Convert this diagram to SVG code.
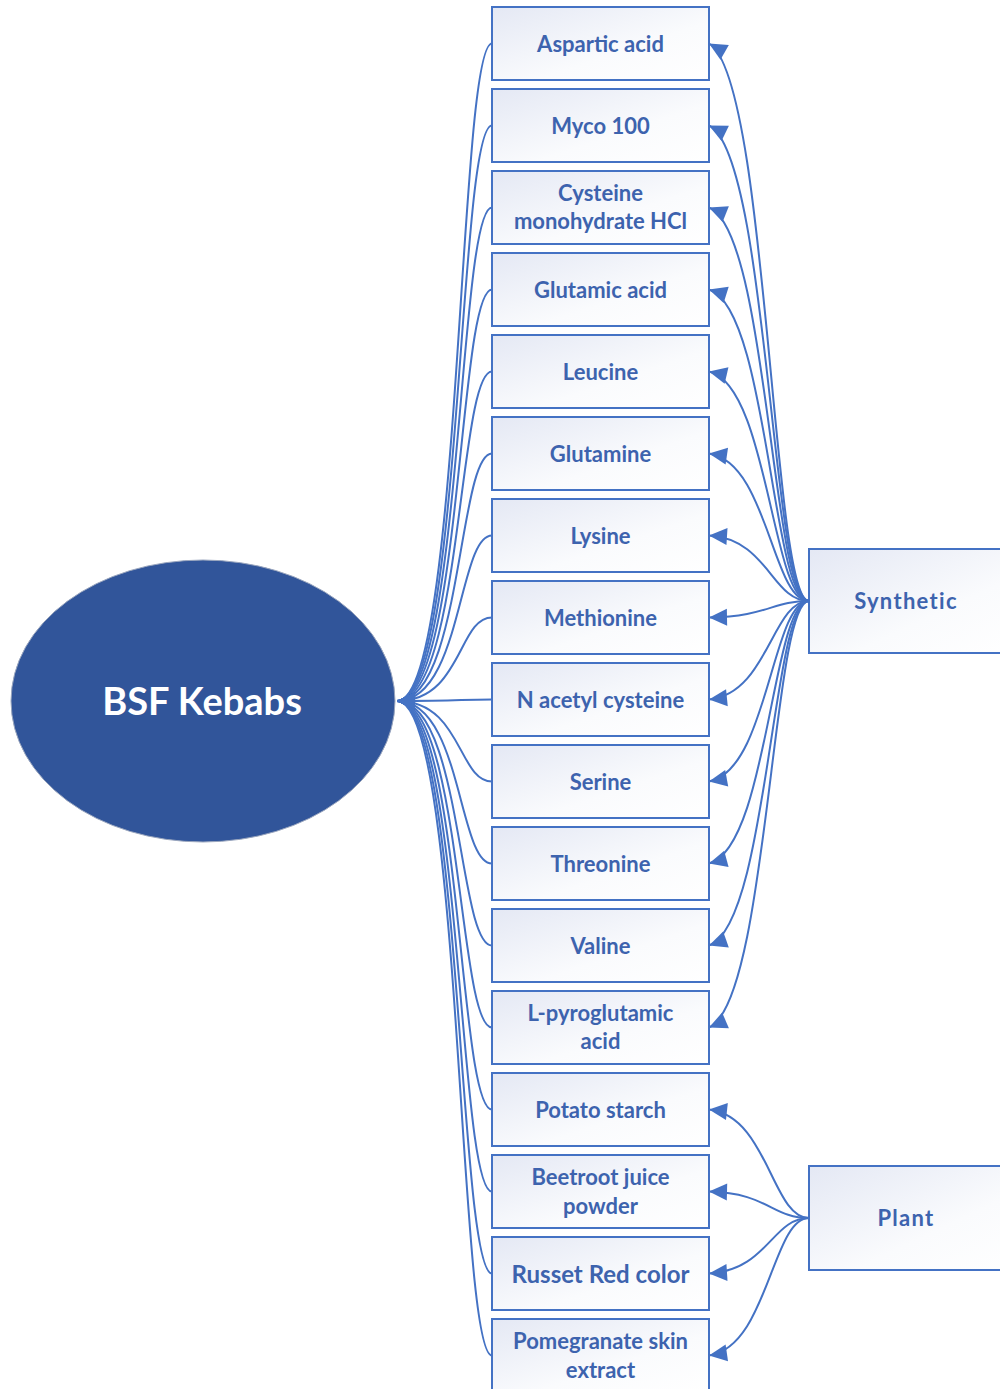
<svg xmlns="http://www.w3.org/2000/svg" width="1000" height="1389" viewBox="0 0 1000 1389">
<style>
.box{fill:url(#g);stroke:#4472C4;stroke-width:2}
.t{font-family:Lato,"Noto Sans",sans-serif;font-weight:bold;font-size:22px;fill:#3D63AE;text-anchor:middle}
.c{fill:none;stroke:#4472C4;stroke-width:2;marker-end:url(#arr)}
</style>
<defs>
<linearGradient id="g" x1="0" y1="0" x2="1" y2="1">
<stop offset="0" stop-color="#E4E8F4"/>
<stop offset="0.6" stop-color="#FAFBFD"/>
<stop offset="1" stop-color="#FFFFFF"/>
</linearGradient>
<marker id="arr" markerUnits="userSpaceOnUse" viewBox="-19 -10 20 20" markerWidth="20" markerHeight="20" refX="0" refY="0" orient="auto">
<path d="M0,0 L-18,-8.5 L-18,8.5 Z" fill="#4472C4"/>
</marker>
</defs>
<g id="bsf-kebabs">
<ellipse cx="203" cy="701" rx="192" ry="141" fill="#31559A" stroke="#9AA6BE" stroke-width="1"/>
<text x="202" y="715" font-family="Lato,'Noto Sans',sans-serif" font-weight="bold" font-size="38" fill="#FFFFFF" text-anchor="middle">BSF Kebabs</text>
</g>
<g id="n-aspartic"><rect class="box" x="492" y="7" width="217" height="73"/><text class="t" x="600.5" y="51.5">Aspartic acid</text></g>
<g id="n-myco"><rect class="box" x="492" y="89" width="217" height="73"/><text class="t" x="600.5" y="133.5">Myco 100</text></g>
<g id="n-cysteine"><rect class="box" x="492" y="171" width="217" height="73"/><text class="t" x="600.5" y="200.5">Cysteine</text><text class="t" x="600.5" y="228.5">monohydrate HCl</text></g>
<g id="n-glutamic"><rect class="box" x="492" y="253" width="217" height="73"/><text class="t" x="600.5" y="297.5">Glutamic acid</text></g>
<g id="n-leucine"><rect class="box" x="492" y="335" width="217" height="73"/><text class="t" x="600.5" y="379.5">Leucine</text></g>
<g id="n-glutamine"><rect class="box" x="492" y="417" width="217" height="73"/><text class="t" x="600.5" y="461.5">Glutamine</text></g>
<g id="n-lysine"><rect class="box" x="492" y="499" width="217" height="73"/><text class="t" x="600.5" y="543.5">Lysine</text></g>
<g id="n-methionine"><rect class="box" x="492" y="581" width="217" height="73"/><text class="t" x="600.5" y="625.5">Methionine</text></g>
<g id="n-nacetyl"><rect class="box" x="492" y="663" width="217" height="73"/><text class="t" x="600.5" y="707.5">N acetyl cysteine</text></g>
<g id="n-serine"><rect class="box" x="492" y="745" width="217" height="73"/><text class="t" x="600.5" y="789.5">Serine</text></g>
<g id="n-threonine"><rect class="box" x="492" y="827" width="217" height="73"/><text class="t" x="600.5" y="871.5">Threonine</text></g>
<g id="n-valine"><rect class="box" x="492" y="909" width="217" height="73"/><text class="t" x="600.5" y="953.5">Valine</text></g>
<g id="n-pyroglutamic"><rect class="box" x="492" y="991" width="217" height="73"/><text class="t" x="600.5" y="1021">L-pyroglutamic</text><text class="t" x="600.5" y="1049">acid</text></g>
<g id="n-potato"><rect class="box" x="492" y="1073" width="217" height="73"/><text class="t" x="600.5" y="1117.5">Potato starch</text></g>
<g id="n-beetroot"><rect class="box" x="492" y="1155" width="217" height="73"/><text class="t" x="600.5" y="1185">Beetroot juice</text><text class="t" x="600.5" y="1214">powder</text></g>
<g id="n-russet"><rect class="box" x="492" y="1237" width="217" height="73"/><text class="t" x="600.5" y="1282.5" style="font-size:24px">Russet Red color</text></g>
<g id="n-pomegranate"><rect class="box" x="492" y="1319" width="217" height="73"/><text class="t" x="600.5" y="1349">Pomegranate skin</text><text class="t" x="600.5" y="1378">extract</text></g>
<g id="n-synthetic"><rect class="box" x="809" y="549" width="220" height="104"/><text class="t" x="906" y="609" letter-spacing="1.3">Synthetic</text></g>
<g id="n-plant"><rect class="box" x="809" y="1166" width="220" height="104"/><text class="t" x="906" y="1226" letter-spacing="1.3">Plant</text></g>
<g id="connectors">
<path class="c" d="M492,43.5 C458,43.5 462,701 397,701"/>
<path class="c" d="M492,125.5 C458,125.5 462,701 397,701"/>
<path class="c" d="M492,207.5 C458,207.5 462,701 397,701"/>
<path class="c" d="M492,289.5 C458,289.5 462,701 397,701"/>
<path class="c" d="M492,371.5 C458,371.5 462,701 397,701"/>
<path class="c" d="M492,453.5 C458,453.5 462,701 397,701"/>
<path class="c" d="M492,535.5 C458,535.5 462,701 397,701"/>
<path class="c" d="M492,617.5 C458,617.5 462,701 397,701"/>
<path class="c" d="M492,699.5 C458,699.5 462,701 397,701"/>
<path class="c" d="M492,781.5 C458,781.5 462,701 397,701"/>
<path class="c" d="M492,863.5 C458,863.5 462,701 397,701"/>
<path class="c" d="M492,945.5 C458,945.5 462,701 397,701"/>
<path class="c" d="M492,1027.5 C458,1027.5 462,701 397,701"/>
<path class="c" d="M492,1109.5 C458,1109.5 462,701 397,701"/>
<path class="c" d="M492,1191.5 C458,1191.5 462,701 397,701"/>
<path class="c" d="M492,1273.5 C458,1273.5 462,701 397,701"/>
<path class="c" d="M492,1355.5 C458,1355.5 462,701 397,701"/>
<path class="c" d="M809,601 C772,601 768,77 709,43.5"/>
<path class="c" d="M809,601 C772,601 768,154 709,125.5"/>
<path class="c" d="M809,601 C772,601 768,231 709,207.5"/>
<path class="c" d="M809,601 C772,601 768,308 709,289.5"/>
<path class="c" d="M809,601 C772,601 768,385 709,371.5"/>
<path class="c" d="M809,601 C772,601 768,462 709,453.5"/>
<path class="c" d="M809,601 C772,601 768,539 709,535.5"/>
<path class="c" d="M809,601 C772,601 768,616.5 709,617.5"/>
<path class="c" d="M809,601 C772,601 768,693.6 709,699.5"/>
<path class="c" d="M809,601 C772,601 768,770.7 709,781.5"/>
<path class="c" d="M809,601 C772,601 768,847.7 709,863.5"/>
<path class="c" d="M809,601 C772,601 768,924.8 709,945.5"/>
<path class="c" d="M809,601 C772,601 768,1001.9 709,1027.5"/>
<path class="c" d="M809,1218 C772,1218 768,1116 709,1109.5"/>
<path class="c" d="M809,1218 C772,1218 768,1193 709,1191.5"/>
<path class="c" d="M809,1218 C772,1218 768,1270 709,1273.5"/>
<path class="c" d="M809,1218 C772,1218 768,1347 709,1355.5"/>
</g>
</svg>
